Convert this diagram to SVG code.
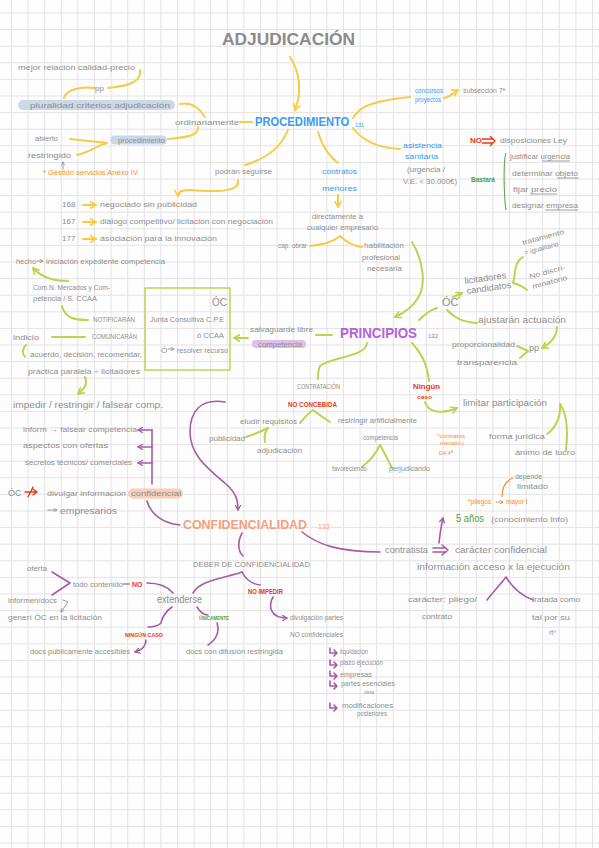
<svg xmlns="http://www.w3.org/2000/svg" width="599" height="848" viewBox="0 0 599 848">
<defs>
<pattern id="grid" width="16.6" height="16.6" patternUnits="userSpaceOnUse" x="11" y="12.5">
<path d="M0 0.5H16.6M0.5 0V16.6" stroke="#e3e3e3" stroke-width="1" fill="none"/>
</pattern>
<marker id="ay" viewBox="0 0 10 10" refX="8" refY="5" markerWidth="4" markerHeight="4" orient="auto"><path d="M1,1 L8,5 L1,9" fill="none" stroke="#f6cb45" stroke-width="2" stroke-linecap="round" stroke-linejoin="round"/></marker>
<marker id="ag" viewBox="0 0 10 10" refX="8" refY="5" markerWidth="4" markerHeight="4" orient="auto"><path d="M1,1 L8,5 L1,9" fill="none" stroke="#bdd34f" stroke-width="2" stroke-linecap="round" stroke-linejoin="round"/></marker>
<marker id="ap" viewBox="0 0 10 10" refX="8" refY="5" markerWidth="4" markerHeight="4" orient="auto"><path d="M1,1 L8,5 L1,9" fill="none" stroke="#a85aa8" stroke-width="2" stroke-linecap="round" stroke-linejoin="round"/></marker>
<marker id="agr" viewBox="0 0 10 10" refX="8" refY="5" markerWidth="5" markerHeight="5" orient="auto"><path d="M1,1 L8,5 L1,9" fill="none" stroke="#8a8a8a" stroke-width="1.5" stroke-linecap="round" stroke-linejoin="round"/></marker>
</defs>
<style>
text{font-family:"Liberation Sans",Arial,sans-serif;font-size:8px;fill:#8e8e8e}
.b{fill:#3b9bf5}
.r{fill:#e8371c;font-weight:bold;font-size:6.5px}
.o{fill:#ff8a1f;font-size:6.5px}
.dg{fill:#4f9f3f}
.cap{font-size:6.5px}
.y{fill:none;stroke:#f6cb45;stroke-width:2;stroke-linecap:round;stroke-linejoin:round}
.g{fill:none;stroke:#bdd34f;stroke-width:2;stroke-linecap:round;stroke-linejoin:round}
.p{fill:none;stroke:#a85aa8;stroke-width:1.6;stroke-linecap:round;stroke-linejoin:round}
.gr{fill:none;stroke:#8a8a8a;stroke-width:0.9;stroke-linecap:round}
.ul{stroke:#8a8a8a;stroke-width:0.8}
</style>
<rect width="599" height="848" fill="#fdfdfd"/>
<rect width="599" height="848" fill="url(#grid)"/>

<g id="connectors">
<!-- yellow -->
<path class="y" d="M290 57 C300 72 302 92 295 110" marker-end="url(#ay)"/>
<path class="y" d="M240 122 H252"/>
<path class="y" d="M180 104 C190 102 198 106 205 117"/>
<path class="y" d="M95 88 C80 86 66 90 64 98"/>
<path class="y" d="M108 88 C128 86 142 82 140 70"/>
<path class="y" d="M198 127 C198 133 195 137 168 139"/>
<path class="y" d="M70 139 L107 143"/>
<path class="y" d="M77 155 C90 152 98 145 107 143"/>
<path class="y" d="M288 130 C280 150 262 160 245 165"/>
<path class="y" d="M238 180 C240 190 225 193 190 190 C182 190 178 192 178 196" marker-end="url(#ay)"/>
<path class="y" d="M83 205 H96" marker-end="url(#ay)"/>
<path class="y" d="M83 222 H96" marker-end="url(#ay)"/>
<path class="y" d="M83 239 H96" marker-end="url(#ay)"/>
<path class="y" d="M318 132 C322 146 330 157 338 163"/>
<path class="y" d="M338 195 V207" marker-end="url(#ay)"/>
<path class="y" d="M310 246 C325 244 333 242 340 236 C346 242 354 246 362 247"/>
<path class="y" d="M353 118 C358 110 363 102 410 97"/>
<path class="y" d="M444 98 C450 97 453 93 458 90" marker-end="url(#ay)"/>
<path class="y" d="M353 128 C362 140 378 148 400 149"/>
<!-- green -->
<path class="g" d="M412 242 C424 262 426 285 418 298 C412 308 404 313 395 317" marker-end="url(#ag)" stroke-width="3"/>
<path class="g" d="M316 335 H332"/>
<path class="g" d="M248 338 H234" marker-end="url(#ag)"/>
<path class="g" d="M52 337 H85"/>
<path class="g" d="M26 345 C22 349 22 353 25 357"/>
<path class="g" d="M85 377 C88 384 84 389 78 394" marker-end="url(#ag)"/>
<path class="g" d="M68 281 C55 281 42 278 33 268" marker-end="url(#ag)"/>
<path class="g" d="M88 320 C74 320 65 318 62 306"/>
<path class="g" d="M367 343 C366 357 330 357 320 366 C318 370 318 375 318 379"/>
<path class="g" d="M300 423 C305 417 310 412 313 410 C318 414 324 418 330 422"/>
<path class="g" d="M246 437 C255 434 262 431 268 428"/>
<path class="g" d="M265 442 C264 436 265 431 268 428"/>
<path class="g" d="M380 445 C376 453 370 461 362 467"/>
<path class="g" d="M380 445 C384 452 388 460 392 468"/>
<path class="g" d="M412 343 C420 352 427 362 429 381"/>
<path class="g" d="M425 402 C428 412 440 415 457 408" marker-end="url(#ag)"/>
<path class="g" d="M547 434 C556 428 561 416 560 404"/>
<path class="g" d="M566 450 C568 432 567 414 560 404"/>
<path class="g" d="M419 320 C425 314 430 310 437 308"/>
<path class="g" d="M453 297 L462 293" marker-end="url(#ag)"/>
<path class="g" d="M513 283 C516 272 514 262 523 257"/>
<path class="g" d="M513 283 C518 284 522 286 527 290"/>
<path class="g" d="M447 310 C455 318 462 322 477 323"/>
<path class="g" d="M557 327 C557 336 551 343 542 348" marker-end="url(#ag)"/>
<path class="g" d="M517 346 L528 351 L520 358"/>
<!-- dark green bracket -->
<path d="M506 153 C503 160 504 200 506 210" fill="none" stroke="#4f9f3f" stroke-width="1"/>
<!-- purple -->
<path class="p" d="M225 402 C200 398 190 412 190 432 C190 456 210 470 226 484 C236 493 238 500 238 510" marker-end="url(#ap)" stroke-width="3"/>
<path class="p" d="M152 430 V484"/>
<path class="p" d="M152 430 H138" marker-end="url(#ap)"/>
<path class="p" d="M152 447 H138" marker-end="url(#ap)"/>
<path class="p" d="M152 463 H138" marker-end="url(#ap)"/>
<path class="p" d="M147 501 C150 512 160 523 180 525"/>
<path class="p" d="M242 533 C238 540 237 550 243 556"/>
<path class="p" d="M242 572 C225 578 200 580 193 593"/>
<path class="p" d="M242 572 C246 580 252 584 260 585"/>
<path class="p" d="M273 597 C268 606 270 618 287 618" marker-end="url(#ap)"/>
<path class="p" d="M147 583 C160 583 168 587 173 593"/>
<path class="p" d="M52 572 L70 583 L52 595"/>
<path class="p" d="M172 607 C165 612 162 618 161 623 C158 626 153 627 148 627"/>
<path class="p" d="M146 640 C146 646 142 650 135 652" marker-end="url(#ap)"/>
<path class="p" d="M197 607 C200 612 204 615 208 615"/>
<path class="p" d="M217 623 C220 632 216 640 208 645"/>
<path class="p" d="M302 532 C318 545 340 552 380 552"/>
<path class="p" d="M439 543 C440 534 441 526 443 518" marker-end="url(#ap)"/>
<path class="p" d="M487 600 C493 592 500 585 506 577 C512 587 520 595 533 600"/>
<path class="p" d="M433 548 H446 M433 552 H446 M442 545 L448 550 L442 555"/>
<path class="p" d="M330 648 V653 H337 M334 650 L337 653 L334 656"/>
<path class="p" d="M330 660 V665 H337 M334 662 L337 665 L334 668"/>
<path class="p" d="M330 671 V676 H337 M334 673 L337 676 L334 679"/>
<path class="p" d="M330 681 V686 H337 M334 683 L337 686 L334 689"/>
<path class="p" d="M330 703 V708 H337 M334 705 L337 708 L334 711"/>
<!-- gray small arrows -->
<path class="gr" d="M63 169 V162" marker-end="url(#agr)"/>
<path class="gr" d="M63 600 L68 602 L61 612" marker-end="url(#agr)"/>
<path class="gr" d="M48 510 H57" marker-end="url(#agr)"/>
<path class="gr" d="M168 349 H174" marker-end="url(#agr)"/>
<path class="gr" d="M37 261 H43" marker-end="url(#agr)"/>
<!-- orange -->
<path d="M513 478 C505 481 502 488 502 497" fill="none" stroke="#ff8a1f" stroke-width="1.2"/>
<path d="M496 502 H503" stroke="#ff8a1f" stroke-width="0.9" marker-end="url(#agr)"/>
<!-- red crossed arrow -->
<path d="M25 492 H37 M33 489 L37 492 L33 495 M28 497 L33 487" fill="none" stroke="#e8371c" stroke-width="1.3" stroke-linecap="round"/>
<!-- red NO arrow -->
<path d="M482 139 H493 M482 143 H493 M490 136 L495 141 L490 146" fill="none" stroke="#e8371c" stroke-width="1.3"/>
</g>

<g id="title"><text x="222" y="45" textLength="133" lengthAdjust="spacingAndGlyphs" style="font-size:17px;font-weight:bold;fill:#8c8c8c">ADJUDICACIÓN</text></g>

<g id="procedimiento">
<text transform="translate(255 126) scale(0.83 1)" x="0" y="0" class="b" style="font-size:13.5px;font-weight:bold">PROCEDIMIENTO</text>
<text x="355" y="127" class="b" style="font-size:5.5px">131</text>
</g>
<g id="ordinariamente"><text x="175" y="125" textLength="64" lengthAdjust="spacingAndGlyphs">ordinariamente</text></g>
<g id="pluralidad">
<rect x="18" y="100" width="157" height="10" rx="5" fill="#cbd8e8"/>
<text x="30" y="108" textLength="140" lengthAdjust="spacingAndGlyphs">pluralidad criterios  adjudicación</text>
</g>
<g id="pp1"><text x="95" y="91">pp</text></g>
<g id="mejor"><text x="18" y="70" textLength="117" lengthAdjust="spacingAndGlyphs">mejor relación calidad-precio</text></g>
<g id="procedimiento2">
<rect x="110" y="135.5" width="57" height="9" rx="4.5" fill="#cbd8e8"/>
<text x="118" y="143" textLength="47" lengthAdjust="spacingAndGlyphs">procedimiento</text>
</g>
<g id="abierto"><text x="35" y="141" textLength="23" lengthAdjust="spacingAndGlyphs">abierto</text></g>
<g id="restringido"><text x="28" y="158" textLength="43" lengthAdjust="spacingAndGlyphs">restringido</text></g>
<g id="gestion"><text x="43" y="175" class="o" textLength="95" lengthAdjust="spacingAndGlyphs">* Gestión servicios Anexo IV</text></g>
<g id="podran"><text x="215" y="174" textLength="57" lengthAdjust="spacingAndGlyphs">podrán  seguirse</text></g>
<g id="lista-proc">
<text x="62" y="207">168</text><text x="100" y="207" textLength="97" lengthAdjust="spacingAndGlyphs">negociado sin publicidad</text>
<text x="62" y="224">167</text><text x="100" y="224" textLength="173" lengthAdjust="spacingAndGlyphs">diálogo competitivo/ licitación con negociación</text>
<text x="62" y="241">177</text><text x="100" y="241" textLength="117" lengthAdjust="spacingAndGlyphs">asociación para la innovación</text>
</g>
<g id="contratos-menores">
<text x="322" y="174" class="b" textLength="35" lengthAdjust="spacingAndGlyphs">contratos</text>
<text x="322" y="191" class="b" textLength="35" lengthAdjust="spacingAndGlyphs">menores</text>
</g>
<g id="directamente">
<text x="312" y="219" textLength="51" lengthAdjust="spacingAndGlyphs">directamente a</text>
<text x="307" y="230" textLength="71" lengthAdjust="spacingAndGlyphs">cualquier empresario</text>
</g>
<g id="cap-obrar"><text x="278" y="248" textLength="29" lengthAdjust="spacingAndGlyphs">cap. obrar</text></g>
<g id="habilitacion">
<text x="364" y="248" textLength="40" lengthAdjust="spacingAndGlyphs">habilitación</text>
<text x="362" y="260" textLength="38" lengthAdjust="spacingAndGlyphs">profesional</text>
<text x="367" y="271" textLength="35" lengthAdjust="spacingAndGlyphs">necesaria</text>
</g>
<g id="concursos">
<text x="415" y="93" class="b" textLength="28" lengthAdjust="spacingAndGlyphs">concursos</text>
<text x="415" y="102" class="b" textLength="26" lengthAdjust="spacingAndGlyphs">proyectos</text>
</g>
<g id="subseccion"><text x="463" y="93" textLength="42" lengthAdjust="spacingAndGlyphs" style="font-size:7px">subsección 7ª</text></g>
<g id="asistencia">
<text x="403" y="148" class="b" textLength="39" lengthAdjust="spacingAndGlyphs">asistencia</text>
<text x="405" y="159" class="b" textLength="33" lengthAdjust="spacingAndGlyphs">sanitaria</text>
<text x="407" y="172" textLength="38" lengthAdjust="spacingAndGlyphs">(urgencia /</text>
<text x="403" y="184" textLength="54" lengthAdjust="spacingAndGlyphs">V.E. &lt; 30.000€)</text>
</g>
<g id="no-disposiciones">
<text x="470" y="143" class="r" style="font-size:8px">NO</text>
<text x="500" y="143" textLength="67" lengthAdjust="spacingAndGlyphs">disposiciones Ley</text>
</g>
<g id="bastara">
<text x="471" y="182" class="dg" textLength="24" lengthAdjust="spacingAndGlyphs" style="font-weight:bold;font-size:7px">Bastará</text>
<text x="510" y="159" textLength="60" lengthAdjust="spacingAndGlyphs">justificar urgencia</text>
<line class="ul" x1="542" y1="161" x2="570" y2="161"/>
<text x="512" y="176" textLength="66" lengthAdjust="spacingAndGlyphs">determinar objeto</text>
<line class="ul" x1="557" y1="178" x2="579" y2="178"/>
<text x="513" y="192" textLength="44" lengthAdjust="spacingAndGlyphs">fijar precio</text>
<line class="ul" x1="530" y1="194" x2="557" y2="194"/>
<text x="512" y="208" textLength="66" lengthAdjust="spacingAndGlyphs">designar empresa</text>
<line class="ul" x1="545" y1="210" x2="578" y2="210"/>
</g>

<g id="principios">
<text x="340" y="338" textLength="77" lengthAdjust="spacingAndGlyphs" style="font-size:15px;font-weight:bold;fill:#b462d8">PRINCIPIOS</text>
<text x="428" y="338" style="font-size:6px;fill:#b462d8">132</text>
</g>
<g id="salvaguarde">
<text x="250" y="332" textLength="63" lengthAdjust="spacingAndGlyphs">salvaguarde  libre</text>
<rect x="252" y="340" width="54" height="8" rx="4" fill="#dcbfea"/>
<text x="258" y="346.5" textLength="44" lengthAdjust="spacingAndGlyphs" style="font-size:6.5px">competencia</text>
</g>
<g id="box-oc">
<rect x="145" y="288" width="85" height="82" fill="none" stroke="#bdd34f" stroke-width="1.5"/>
<text x="212" y="306" style="font-size:10px">ÓC</text>
<text x="150" y="322" textLength="74" lengthAdjust="spacingAndGlyphs">Junta Consultiva C.P.E</text>
<text x="197" y="338" textLength="27" lengthAdjust="spacingAndGlyphs">ó CCAA</text>
<text x="161" y="353">Ó</text>
<text x="177" y="353" textLength="51" lengthAdjust="spacingAndGlyphs">resolver recurso</text>
</g>
<g id="notificaran"><text x="93" y="322" class="cap" textLength="42" lengthAdjust="spacingAndGlyphs">NOTIFICARÁN</text></g>
<g id="comunicaran"><text x="92" y="339" class="cap" textLength="45" lengthAdjust="spacingAndGlyphs">COMUNICARÁN</text></g>
<g id="comn">
<text x="33" y="290" textLength="77" lengthAdjust="spacingAndGlyphs">Com.N. Mercados y Com-</text>
<text x="33" y="301" textLength="64" lengthAdjust="spacingAndGlyphs">petencia / S. CCAA</text>
</g>
<g id="hecho">
<text x="16" y="264" textLength="20" lengthAdjust="spacingAndGlyphs">hecho</text>
<text x="46" y="264" textLength="119" lengthAdjust="spacingAndGlyphs">iniciación expediente competencia</text>
</g>
<g id="indicio">
<text x="13" y="340" textLength="26" lengthAdjust="spacingAndGlyphs">indicio</text>
<text x="30" y="357" textLength="112" lengthAdjust="spacingAndGlyphs">acuerdo, decisión, recomendar,</text>
<text x="28" y="374" textLength="112" lengthAdjust="spacingAndGlyphs">práctica paralela ÷ licitadores</text>
</g>
<g id="impedir"><text x="13" y="408" textLength="150" lengthAdjust="spacingAndGlyphs" style="font-size:9px">impedir / restringir / falsear  comp.</text></g>
<g id="inform-list">
<text x="23" y="432" textLength="114" lengthAdjust="spacingAndGlyphs">inform → falsear competencia</text>
<text x="23" y="448" textLength="85" lengthAdjust="spacingAndGlyphs">aspectos con ofertas</text>
<text x="25" y="465" textLength="107" lengthAdjust="spacingAndGlyphs">secretos técnicos/ comerciales</text>
</g>
<g id="oc-divulgar">
<text x="8" y="496" style="font-size:9px">ÓC</text>
<text x="47" y="496" textLength="79" lengthAdjust="spacingAndGlyphs">divulgar información</text>
<rect x="128" y="488.5" width="55" height="10" rx="5" fill="#f9cdb9"/>
<text x="131" y="496" textLength="50" lengthAdjust="spacingAndGlyphs">confidencial</text>
<text x="60" y="514" textLength="57" lengthAdjust="spacingAndGlyphs" style="font-size:9px">empresarios</text>
</g>
<g id="contratacion"><text x="297" y="389" class="cap" textLength="43" lengthAdjust="spacingAndGlyphs">CONTRATACIÓN</text></g>
<g id="no-concebida"><text x="288" y="406.5" class="r" textLength="49" lengthAdjust="spacingAndGlyphs">NO CONCEBIDA</text></g>
<g id="eludir"><text x="240" y="424" textLength="57" lengthAdjust="spacingAndGlyphs">eludir requisitos</text></g>
<g id="restringir"><text x="338" y="423" textLength="79" lengthAdjust="spacingAndGlyphs">restringir artificialmente</text></g>
<g id="publicidad"><text x="209" y="441" textLength="36" lengthAdjust="spacingAndGlyphs">publicidad</text></g>
<g id="adjudicacion"><text x="257" y="453" textLength="45" lengthAdjust="spacingAndGlyphs">adjudicación</text></g>
<g id="competencia"><text x="363" y="440" textLength="35" lengthAdjust="spacingAndGlyphs" style="font-size:7px">competencia</text></g>
<g id="favoreciendo"><text x="332" y="471" textLength="35" lengthAdjust="spacingAndGlyphs" style="font-size:7px">favoreciendo</text></g>
<g id="perjudicando"><text x="389" y="471" textLength="41" lengthAdjust="spacingAndGlyphs" style="font-size:7px">perjudicando</text></g>
<g id="ningun">
<text x="413" y="389" class="r" textLength="27" lengthAdjust="spacingAndGlyphs" style="font-size:7.5px">Ningún</text>
<text x="417" y="399" class="r" textLength="15" lengthAdjust="spacingAndGlyphs" style="font-size:5.5px">caso</text>
</g>
<g id="limitar"><text x="463" y="406" textLength="84" lengthAdjust="spacingAndGlyphs" style="font-size:9px">limitar participación</text></g>
<g id="forma"><text x="489" y="439" textLength="56" lengthAdjust="spacingAndGlyphs">forma jurídica</text></g>
<g id="animo"><text x="515" y="455" textLength="60" lengthAdjust="spacingAndGlyphs">ánimo de lucro</text></g>
<g id="reservados">
<text x="437" y="438" class="o" style="font-size:5px" textLength="28" lengthAdjust="spacingAndGlyphs">*contratos</text>
<text x="440" y="445" class="o" style="font-size:5px" textLength="24" lengthAdjust="spacingAndGlyphs">reservados y</text>
<text x="439" y="455" class="o" style="font-size:5.5px">DA 4ª</text>
</g>
<g id="depende">
<text x="515" y="479" textLength="27" lengthAdjust="spacingAndGlyphs" style="font-size:7px">depende</text>
<text x="517" y="489" textLength="31" lengthAdjust="spacingAndGlyphs" style="font-size:7px">limitado</text>
</g>
<g id="pliegos"><text x="468" y="504" class="o" style="font-size:6.5px">*pliegos</text><text x="506" y="504" class="o" style="font-size:6.5px">mayor t</text></g>
<g id="oc-right"><text x="442" y="306" style="font-size:11px">ÓC</text></g>
<g id="licitadores">
<text x="465" y="284" transform="rotate(-8 465 284)" textLength="42" lengthAdjust="spacingAndGlyphs" style="font-size:9px">licitadores</text>
<text x="467" y="294" transform="rotate(-8 467 294)" textLength="45" lengthAdjust="spacingAndGlyphs" style="font-size:9px">candidatos</text>
</g>
<g id="tratamiento">
<text x="523" y="245" transform="rotate(-15 523 245)" textLength="43" lengthAdjust="spacingAndGlyphs" style="font-size:7px">tratamiento</text>
<text x="525" y="255" transform="rotate(-15 525 255)" textLength="35" lengthAdjust="spacingAndGlyphs" style="font-size:7px">= igualitario</text>
</g>
<g id="no-discriminatorio">
<text x="530" y="279" transform="rotate(-15 530 279)" textLength="37" lengthAdjust="spacingAndGlyphs" style="font-size:7px">No discri-</text>
<text x="533" y="289" transform="rotate(-15 533 289)" textLength="36" lengthAdjust="spacingAndGlyphs" style="font-size:7px">minatorio</text>
</g>
<g id="ajustaran"><text x="478" y="323" textLength="88" lengthAdjust="spacingAndGlyphs" style="font-size:9px">ajustarán  actuación</text></g>
<g id="pp2"><text x="529" y="351" style="font-size:9px">pp</text></g>
<g id="proporcionalidad">
<text x="452" y="347" textLength="63" lengthAdjust="spacingAndGlyphs">proporcionalidad</text>
<text x="457" y="365" textLength="60" lengthAdjust="spacingAndGlyphs">transparencia</text>
</g>

<g id="confidencialidad">
<text x="183" y="529" textLength="124" lengthAdjust="spacingAndGlyphs" style="font-size:13.5px;font-weight:bold;fill:#f59f7e">CONFIDENCIALIDAD</text>
<text x="318" y="529" style="font-size:7px;fill:#f59f7e">133</text>
</g>
<g id="deber"><text x="193" y="567" class="cap" textLength="117" lengthAdjust="spacingAndGlyphs" style="font-size:7px">DEBER DE CONFIDENCIALIDAD</text></g>
<g id="no-impedir"><text x="248" y="594" class="r" textLength="35" lengthAdjust="spacingAndGlyphs">NO IMPEDIR</text></g>
<g id="divulgacion">
<text x="290" y="620" textLength="53" lengthAdjust="spacingAndGlyphs" style="font-size:7px">divulgación partes</text>
<text x="290" y="637" textLength="53" lengthAdjust="spacingAndGlyphs" style="font-size:7px">NO confidenciales</text>
</g>
<g id="extenderse"><text x="157" y="603" textLength="45" lengthAdjust="spacingAndGlyphs" style="font-size:10px">extenderse</text></g>
<g id="todo-contenido">
<text x="73" y="587" textLength="50" lengthAdjust="spacingAndGlyphs">todo contenido</text>
<line x1="123" y1="584" x2="130" y2="584" stroke="#a85aa8" stroke-width="1.2"/>
<text x="132" y="587" class="r" style="font-size:7px">NO</text>
</g>
<g id="oferta"><text x="27" y="571" textLength="20" lengthAdjust="spacingAndGlyphs" style="font-size:7px">oferta</text></g>
<g id="informen">
<text x="8" y="603" textLength="49" lengthAdjust="spacingAndGlyphs">informen/docs</text>
<text x="8" y="620" textLength="94" lengthAdjust="spacingAndGlyphs">generí  ÓC en la licitación</text>
</g>
<g id="ningun-caso"><text x="125" y="637" class="r" textLength="38" lengthAdjust="spacingAndGlyphs" style="font-size:6px">NINGÚN CASO</text></g>
<g id="docs-publicos"><text x="30" y="654" textLength="100" lengthAdjust="spacingAndGlyphs">docs públicamente accesibles</text></g>
<g id="unicamente"><text x="199" y="620" class="dg" textLength="30" lengthAdjust="spacingAndGlyphs" style="font-size:5.5px;font-weight:bold">ÚNICAMENTE</text></g>
<g id="docs-restringida"><text x="186" y="654" textLength="97" lengthAdjust="spacingAndGlyphs">docs con difusión restringida</text></g>
<g id="lista-ejecucion">
<text x="340" y="654" textLength="28" lengthAdjust="spacingAndGlyphs" style="font-size:6.5px">liquidación</text>
<text x="340" y="665" textLength="43" lengthAdjust="spacingAndGlyphs" style="font-size:6.5px">plazo ejecución</text>
<text x="340" y="677" textLength="32" lengthAdjust="spacingAndGlyphs" style="font-size:6.5px">empresas</text>
<text x="341" y="686" textLength="54" lengthAdjust="spacingAndGlyphs" style="font-size:6.5px">partes esenciales</text>
<text x="364" y="694" textLength="10" lengthAdjust="spacingAndGlyphs" style="font-size:6px">oferta</text>
<text x="342" y="708" textLength="51" lengthAdjust="spacingAndGlyphs" style="font-size:6.5px">modificaciones</text>
<text x="357" y="716" textLength="30" lengthAdjust="spacingAndGlyphs" style="font-size:6.5px">posteriores</text>
</g>
<g id="contratista"><text x="385" y="553" textLength="43" lengthAdjust="spacingAndGlyphs" style="font-size:9px">contratista</text></g>
<g id="caracter-confidencial"><text x="455" y="553" textLength="92" lengthAdjust="spacingAndGlyphs" style="font-size:9px">carácter confidencial</text></g>
<g id="cinco-anos">
<text x="456" y="522" class="dg" textLength="28" lengthAdjust="spacingAndGlyphs" style="font-size:10px">5 años</text>
<text x="491" y="522" textLength="77" lengthAdjust="spacingAndGlyphs">(conocimiento info)</text>
</g>
<g id="informacion-acceso"><text x="417" y="570" textLength="153" lengthAdjust="spacingAndGlyphs" style="font-size:9px">información acceso x la ejecución</text></g>
<g id="caracter-pliego">
<text x="408" y="602" textLength="69" lengthAdjust="spacingAndGlyphs">carácter: pliego/</text>
<text x="422" y="619" textLength="30" lengthAdjust="spacingAndGlyphs">contrato</text>
</g>
<g id="tratada">
<text x="532" y="602" textLength="48" lengthAdjust="spacingAndGlyphs" style="font-size:7px">tratada como</text>
<text x="532" y="620" textLength="38" lengthAdjust="spacingAndGlyphs" style="font-size:7px">tal  por  su</text>
<text x="549" y="635" style="font-size:7px">rtº</text>
</g>
</svg>
